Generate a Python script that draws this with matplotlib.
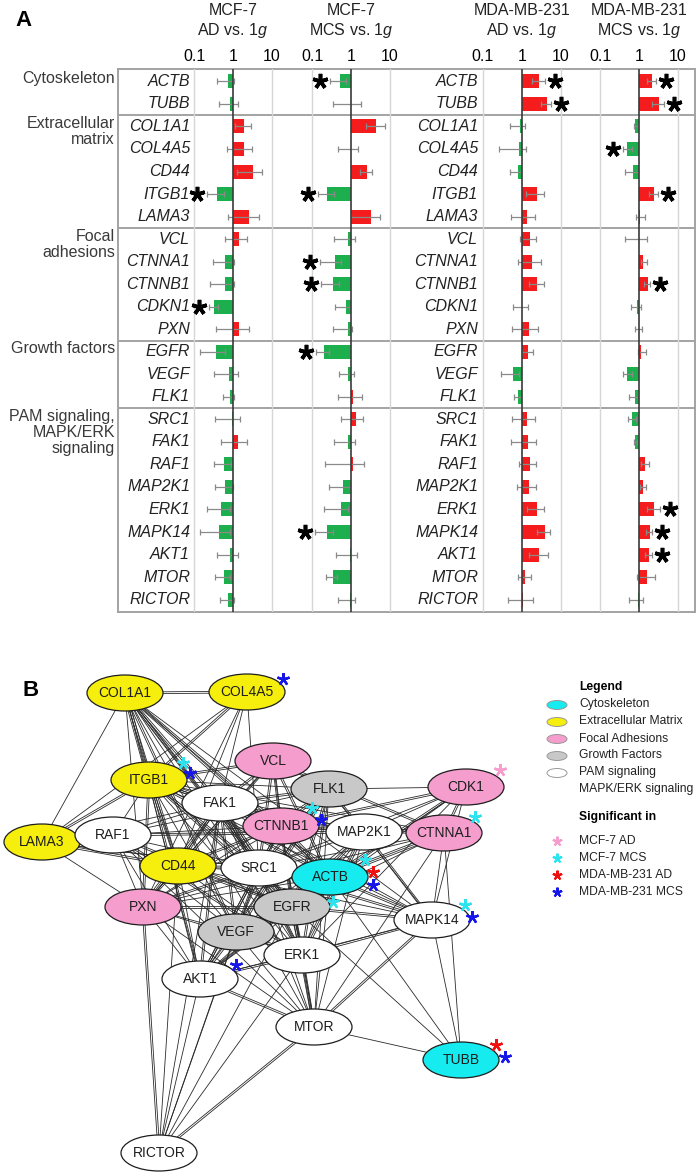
import numpy as np
import matplotlib
matplotlib.use('Agg')
import matplotlib.pyplot as plt
from matplotlib.patches import Ellipse
from matplotlib.ticker import NullLocator
from matplotlib.transforms import offset_copy, blended_transform_factory

plt.rcParams['font.family'] = ['Liberation Sans', 'DejaVu Sans']
plt.rcParams['mathtext.fontset'] = 'custom'
plt.rcParams['mathtext.it'] = 'Liberation Sans:italic'
plt.rcParams['mathtext.rm'] = 'Liberation Sans'

# ---------------- panel A data ----------------
groups = ['Cytoskeleton', 'Extracellular\nmatrix', 'Focal\nadhesions',
          'Growth factors', 'PAM signaling,\nMAPK/ERK\nsignaling']
group_sizes = [2, 5, 5, 3, 9]
genes = ['ACTB', 'TUBB', 'COL1A1', 'COL4A5', 'CD44', 'ITGB1', 'LAMA3',
         'VCL', 'CTNNA1', 'CTNNB1', 'CDKN1', 'PXN', 'EGFR', 'VEGF', 'FLK1',
         'SRC1', 'FAK1', 'RAF1', 'MAP2K1', 'ERK1', 'MAPK14', 'AKT1', 'MTOR',
         'RICTOR']
col_titles = ['MCF-7\nAD vs. 1$\\it{g}$', 'MCF-7\nMCS vs. 1$\\it{g}$',
              'MDA-MB-231\nAD vs. 1$\\it{g}$', 'MDA-MB-231\nMCS vs. 1$\\it{g}$']

# fold change, lower and upper error limits
mcf7_ad = [0.73, 0.85, 1.95, 1.88, 3.26, 0.40, 2.57, 1.40, 0.64, 0.64, 0.32, 1.40,
           0.37, 0.79, 0.84, 0.92, 1.32, 0.60, 0.64, 0.48, 0.45, 0.84, 0.58, 0.74]
mcf7_ad_lo = [0.40, 0.45, 1.10, 0.70, 1.27, 0.21, 0.74, 0.64, 0.31, 0.25, 0.24, 0.36,
              0.14, 0.32, 0.56, 0.35, 0.49, 0.33, 0.35, 0.22, 0.14, 0.40, 0.34, 0.47]
mcf7_ad_hi = [1.06, 1.32, 2.84, 3.07, 5.53, 0.58, 4.55, 2.24, 1.04, 1.04, 0.41, 2.57,
              0.61, 1.32, 1.06, 1.54, 2.24, 0.90, 1.00, 0.82, 0.82, 1.32, 0.85, 1.06]

mcf7_mcs = [0.53, 0.98, 4.29, 0.98, 2.52, 0.24, 3.20, 0.84, 0.38, 0.34, 0.74, 0.84,
            0.20, 0.85, 1.13, 1.32, 0.84, 1.15, 0.64, 0.54, 0.24, 0.94, 0.34, 0.92]
mcf7_mcs_lo = [0.29, 0.34, 2.43, 0.46, 1.70, 0.14, 1.00, 0.37, 0.16, 0.17, 0.39, 0.34,
               0.13, 0.50, 0.46, 0.55, 0.37, 0.21, 0.27, 0.20, 0.12, 0.42, 0.23, 0.46]
mcf7_mcs_hi = [0.74, 1.84, 7.30, 1.50, 3.45, 0.37, 5.40, 1.27, 0.55, 0.50, 0.94, 1.06,
               0.28, 1.17, 1.88, 2.07, 1.27, 2.10, 0.96, 0.85, 0.34, 1.45, 0.45, 1.27]

mda_ad = [2.75, 4.40, 0.87, 0.82, 0.77, 2.44, 1.37, 1.61, 1.78, 2.40, 0.99, 1.49,
          1.43, 0.60, 0.77, 1.37, 1.40, 1.58, 1.49, 2.44, 3.85, 2.80, 1.22, 1.08]
mda_ad_lo = [1.80, 3.00, 0.48, 0.26, 0.49, 1.27, 0.52, 0.87, 0.77, 1.50, 0.59, 0.56,
             1.00, 0.29, 0.61, 0.56, 0.52, 0.82, 0.76, 1.35, 2.44, 1.50, 0.79, 0.43]
mda_ad_hi = [4.00, 5.70, 1.22, 1.27, 0.96, 3.70, 2.20, 2.35, 3.00, 3.60, 1.45, 2.60,
             1.96, 0.85, 0.94, 2.15, 2.30, 2.30, 2.30, 3.60, 5.20, 4.70, 1.74, 1.90]

mda_mcs = [2.13, 3.29, 0.80, 0.50, 0.70, 2.49, 1.06, 1.00, 1.30, 1.74, 0.89, 1.00,
           1.15, 0.50, 0.79, 0.67, 0.80, 1.43, 1.24, 2.44, 1.92, 1.80, 1.61, 0.92]
mda_mcs_lo = [1.64, 2.20, 0.74, 0.39, 0.43, 1.80, 0.85, 0.43, 1.10, 1.35, 0.62, 0.79,
              0.92, 0.39, 0.57, 0.53, 0.73, 1.10, 1.04, 1.64, 1.48, 1.43, 0.90, 0.57]
mda_mcs_hi = [2.80, 4.30, 0.96, 0.65, 0.94, 3.16, 1.43, 1.58, 1.60, 1.93, 1.15, 1.17,
              1.49, 0.65, 0.96, 0.82, 0.90, 1.80, 1.49, 3.40, 2.20, 2.10, 2.52, 1.27]

sig_mcf7_ad = ['ITGB1', 'CDKN1']
sig_mcf7_mcs = ['ACTB', 'ITGB1', 'CTNNA1', 'CTNNB1', 'EGFR', 'MAPK14']
sig_mda_ad = ['ACTB', 'TUBB']
sig_mda_mcs = ['ACTB', 'TUBB', 'COL4A5', 'ITGB1', 'CTNNB1', 'ERK1', 'MAPK14', 'AKT1']

columns = [(mcf7_ad, mcf7_ad_lo, mcf7_ad_hi, sig_mcf7_ad),
           (mcf7_mcs, mcf7_mcs_lo, mcf7_mcs_hi, sig_mcf7_mcs),
           (mda_ad, mda_ad_lo, mda_ad_hi, sig_mda_ad),
           (mda_mcs, mda_mcs_lo, mda_mcs_hi, sig_mda_mcs)]

# ---------------- panel B data ----------------
node_names = ['COL1A1', 'COL4A5', 'ITGB1', 'VCL', 'FLK1', 'FAK1', 'CDK1',
              'CTNNB1', 'MAP2K1', 'CTNNA1', 'LAMA3', 'RAF1', 'CD44', 'SRC1',
              'ACTB', 'PXN', 'EGFR', 'MAPK14', 'VEGF', 'ERK1', 'AKT1', 'MTOR',
              'TUBB', 'RICTOR']
node_groups = ['ecm', 'ecm', 'ecm', 'focal', 'growth', 'pam', 'focal',
               'focal', 'pam', 'focal', 'ecm', 'pam', 'ecm', 'pam',
               'cyto', 'focal', 'growth', 'pam', 'growth', 'pam', 'pam', 'pam',
               'cyto', 'pam']
edges = [
    ('COL1A1', 'COL4A5', 2), ('COL1A1', 'LAMA3', 1), ('COL1A1', 'ITGB1', 3),
    ('COL1A1', 'CD44', 2), ('COL1A1', 'FAK1', 2), ('COL1A1', 'SRC1', 2),
    ('COL1A1', 'ACTB', 2), ('COL1A1', 'EGFR', 2), ('COL1A1', 'VEGF', 2),
    ('COL1A1', 'PXN', 1), ('COL1A1', 'CTNNB1', 2), ('COL1A1', 'AKT1', 1),
    ('COL1A1', 'ERK1', 1), ('COL1A1', 'MAPK14', 1), ('COL1A1', 'MTOR', 1),
    ('COL4A5', 'ITGB1', 2), ('COL4A5', 'LAMA3', 1), ('COL4A5', 'CD44', 1),
    ('COL4A5', 'FAK1', 1), ('COL4A5', 'SRC1', 1), ('COL4A5', 'PXN', 1),
    ('LAMA3', 'ITGB1', 2), ('LAMA3', 'CD44', 2), ('LAMA3', 'PXN', 1),
    ('LAMA3', 'FAK1', 1), ('LAMA3', 'SRC1', 1), ('LAMA3', 'ACTB', 1),
    ('ITGB1', 'VCL', 2), ('ITGB1', 'FAK1', 3), ('ITGB1', 'CD44', 2),
    ('ITGB1', 'SRC1', 2), ('ITGB1', 'PXN', 2), ('ITGB1', 'CTNNB1', 2),
    ('ITGB1', 'CTNNA1', 1), ('ITGB1', 'ACTB', 2), ('ITGB1', 'EGFR', 2),
    ('ITGB1', 'VEGF', 1), ('ITGB1', 'AKT1', 2), ('ITGB1', 'ERK1', 1),
    ('ITGB1', 'MAPK14', 1), ('ITGB1', 'RAF1', 1), ('ITGB1', 'FLK1', 1),
    ('ITGB1', 'MAP2K1', 1),
    ('VCL', 'FAK1', 2), ('VCL', 'CTNNB1', 2), ('VCL', 'CTNNA1', 2),
    ('VCL', 'PXN', 2), ('VCL', 'ACTB', 2), ('VCL', 'SRC1', 2),
    ('VCL', 'FLK1', 1), ('VCL', 'CD44', 1), ('VCL', 'EGFR', 1),
    ('FLK1', 'VEGF', 3), ('FLK1', 'SRC1', 2), ('FLK1', 'MAP2K1', 2),
    ('FLK1', 'ERK1', 2), ('FLK1', 'AKT1', 1), ('FLK1', 'EGFR', 2),
    ('FLK1', 'CTNNB1', 2), ('FLK1', 'FAK1', 2), ('FLK1', 'PXN', 1),
    ('FLK1', 'MAPK14', 1), ('FLK1', 'CDK1', 1), ('FLK1', 'RAF1', 1),
    ('FLK1', 'MTOR', 1),
    ('FAK1', 'SRC1', 3), ('FAK1', 'PXN', 3), ('FAK1', 'CTNNB1', 2),
    ('FAK1', 'RAF1', 1), ('FAK1', 'CD44', 2), ('FAK1', 'EGFR', 2),
    ('FAK1', 'VEGF', 2), ('FAK1', 'ERK1', 2), ('FAK1', 'AKT1', 2),
    ('FAK1', 'MAP2K1', 2), ('FAK1', 'ACTB', 1), ('FAK1', 'MAPK14', 1),
    ('FAK1', 'MTOR', 1), ('FAK1', 'RICTOR', 1),
    ('CDK1', 'CTNNB1', 2), ('CDK1', 'CTNNA1', 2), ('CDK1', 'MAP2K1', 1),
    ('CDK1', 'ACTB', 2), ('CDK1', 'EGFR', 1), ('CDK1', 'MAPK14', 1),
    ('CDK1', 'ERK1', 1), ('CDK1', 'SRC1', 1), ('CDK1', 'AKT1', 1),
    ('CTNNB1', 'CTNNA1', 3), ('CTNNB1', 'MAP2K1', 1), ('CTNNB1', 'SRC1', 2),
    ('CTNNB1', 'ACTB', 3), ('CTNNB1', 'EGFR', 2), ('CTNNB1', 'VEGF', 1),
    ('CTNNB1', 'CD44', 2), ('CTNNB1', 'PXN', 1), ('CTNNB1', 'AKT1', 2),
    ('CTNNB1', 'ERK1', 1), ('CTNNB1', 'RAF1', 1), ('CTNNB1', 'MTOR', 1),
    ('MAP2K1', 'ERK1', 3), ('MAP2K1', 'RAF1', 2), ('MAP2K1', 'SRC1', 1),
    ('MAP2K1', 'EGFR', 2), ('MAP2K1', 'MAPK14', 2), ('MAP2K1', 'AKT1', 1),
    ('MAP2K1', 'MTOR', 1), ('MAP2K1', 'VEGF', 1), ('MAP2K1', 'ACTB', 1),
    ('CTNNA1', 'ACTB', 3), ('CTNNA1', 'EGFR', 1), ('CTNNA1', 'SRC1', 1),
    ('CTNNA1', 'MAPK14', 1), ('CTNNA1', 'TUBB', 1), ('CTNNA1', 'MTOR', 1),
    ('CTNNA1', 'PXN', 1),
    ('RAF1', 'SRC1', 1), ('RAF1', 'EGFR', 2), ('RAF1', 'ERK1', 2),
    ('RAF1', 'AKT1', 1), ('RAF1', 'PXN', 1), ('RAF1', 'MTOR', 1),
    ('RAF1', 'VEGF', 1),
    ('CD44', 'SRC1', 2), ('CD44', 'EGFR', 2), ('CD44', 'PXN', 1),
    ('CD44', 'VEGF', 1), ('CD44', 'ACTB', 1), ('CD44', 'AKT1', 1),
    ('CD44', 'MAPK14', 1), ('CD44', 'RICTOR', 1), ('CD44', 'ERK1', 1),
    ('SRC1', 'ACTB', 2), ('SRC1', 'EGFR', 3), ('SRC1', 'PXN', 2),
    ('SRC1', 'VEGF', 2), ('SRC1', 'ERK1', 2), ('SRC1', 'AKT1', 2),
    ('SRC1', 'MAPK14', 2), ('SRC1', 'MTOR', 1), ('SRC1', 'RICTOR', 1),
    ('ACTB', 'EGFR', 2), ('ACTB', 'MAPK14', 2), ('ACTB', 'ERK1', 1),
    ('ACTB', 'TUBB', 1), ('ACTB', 'PXN', 1), ('ACTB', 'VEGF', 1),
    ('ACTB', 'MTOR', 1), ('ACTB', 'AKT1', 1),
    ('PXN', 'EGFR', 2), ('PXN', 'VEGF', 1), ('PXN', 'AKT1', 1),
    ('PXN', 'ERK1', 1), ('PXN', 'RICTOR', 2), ('PXN', 'MTOR', 1),
    ('EGFR', 'VEGF', 2), ('EGFR', 'ERK1', 3), ('EGFR', 'AKT1', 2),
    ('EGFR', 'MAPK14', 2), ('EGFR', 'MTOR', 2), ('EGFR', 'TUBB', 1),
    ('EGFR', 'RICTOR', 1),
    ('MAPK14', 'ERK1', 2), ('MAPK14', 'AKT1', 1), ('MAPK14', 'MTOR', 2),
    ('MAPK14', 'TUBB', 1),
    ('VEGF', 'ERK1', 2), ('VEGF', 'AKT1', 2), ('VEGF', 'MTOR', 1),
    ('VEGF', 'RICTOR', 1),
    ('ERK1', 'AKT1', 2), ('ERK1', 'MTOR', 2), ('ERK1', 'RICTOR', 1),
    ('AKT1', 'MTOR', 2), ('AKT1', 'RICTOR', 1),
    ('MTOR', 'RICTOR', 2), ('MTOR', 'TUBB', 1),
]
legend_keys = ['cyto', 'ecm', 'focal', 'growth', 'pam']
legend_labels = ['Cytoskeleton', 'Extracellular Matrix', 'Focal Adhesions',
                 'Growth Factors', 'PAM signaling\nMAPK/ERK signaling']
sig_keys = ['mcf7_ad', 'mcf7_mcs', 'mda_ad', 'mda_mcs']
sig_labels = ['MCF-7 AD', 'MCF-7 MCS', 'MDA-MB-231 AD', 'MDA-MB-231 MCS']

# ---------------- layout / style ----------------
W, H = 700, 1176
RED, GREEN = '#f41c1c', '#1daf4e'
node_colors = {'cyto': '#16ecef', 'ecm': '#f6ee0c', 'focal': '#f59dcd',
               'growth': '#c8c8c8', 'pam': 'white'}
star_colors = {'mcf7_ad': '#f59dcd', 'mcf7_mcs': '#2de4ee',
               'mda_ad': '#f01010', 'mda_mcs': '#1616e8'}
node_pos = {'COL1A1': (125, 693), 'COL4A5': (247, 692), 'ITGB1': (149, 780),
            'VCL': (273, 761), 'FLK1': (329, 789), 'FAK1': (220, 803),
            'CDK1': (466, 787), 'CTNNB1': (281, 826), 'MAP2K1': (364, 832),
            'CTNNA1': (444, 833), 'LAMA3': (42, 842), 'RAF1': (113, 835),
            'CD44': (178, 866), 'SRC1': (259, 868), 'ACTB': (330, 877),
            'PXN': (143, 907), 'EGFR': (292, 907), 'MAPK14': (432, 920),
            'VEGF': (236, 932), 'ERK1': (302, 955), 'AKT1': (200, 979),
            'MTOR': (314, 1027), 'TUBB': (461, 1060), 'RICTOR': (159, 1153)}
net_stars = [('COL4A5', 'mda_mcs', 36, -13),
             ('ITGB1', 'mcf7_mcs', 34, -17), ('ITGB1', 'mda_mcs', 41, -7),
             ('CDK1', 'mcf7_ad', 34, -17),
             ('CTNNB1', 'mcf7_mcs', 31, -18), ('CTNNB1', 'mda_mcs', 40, -6),
             ('CTNNA1', 'mcf7_mcs', 31, -16),
             ('ACTB', 'mcf7_mcs', 35, -17), ('ACTB', 'mda_ad', 43, -5),
             ('ACTB', 'mda_mcs', 43, 8),
             ('EGFR', 'mcf7_mcs', 41, -5),
             ('MAPK14', 'mcf7_mcs', 33, -15), ('MAPK14', 'mda_mcs', 40, -3),
             ('AKT1', 'mda_mcs', 36, -14),
             ('TUBB', 'mda_ad', 35, -15), ('TUBB', 'mda_mcs', 44, -3)]


def px_rect(x0, y0, x1, y1):
    return [x0 / W, 1 - y1 / H, (x1 - x0) / W, (y1 - y0) / H]


fig = plt.figure(figsize=(W / 100, H / 100), dpi=100)

n = len(genes)
ylim = (n - 0.45, -0.55)
box_top, box_bot = 69, 612

# table frame, separators, labels
tab = fig.add_axes(px_rect(118, box_top, 695, box_bot))
tab.set_xlim(118, 695)
tab.set_ylim(*ylim)
tab.set_xticks([])
tab.set_yticks([])
for sp in tab.spines.values():
    sp.set_color('#a3a3a3')
    sp.set_linewidth(1.4)
bounds = np.cumsum(group_sizes)
for b in bounds[:-1]:
    tab.axhline(b - 0.5, color='#a3a3a3', lw=1.4)
starts = np.concatenate([[0], bounds[:-1]])
for g, s in zip(groups, starts):
    tab.text(115, s - 0.47, g, ha='right', va='top', fontsize=11.5,
             color='#3a3a3a', linespacing=1.1, clip_on=False)
for i, gname in enumerate(genes):
    for xl in (190, 478):
        tab.text(xl, i, gname, ha='right', va='center', fontsize=11.5,
                 style='italic', color='#222222')

centers = [233, 351, 522, 639]
half = 58.5
for c, (vals, lo, hi, sig) in enumerate(columns):
    v = np.array(vals)
    lo = np.array(lo)
    hi = np.array(hi)
    ax = fig.add_axes(px_rect(centers[c] - half, box_top, centers[c] + half, box_bot))
    ax.patch.set_alpha(0)
    ax.set_xscale('log')
    ax.set_xlim(10 ** -1.5, 10 ** 1.5)
    ax.set_ylim(*ylim)
    for sp in ax.spines.values():
        sp.set_visible(False)
    ax.set_yticks([])
    ax.set_xticks([0.1, 1, 10])
    ax.set_xticklabels(['0.1', '1', '10'])
    ax.xaxis.set_minor_locator(NullLocator())
    ax.tick_params(axis='x', top=True, labeltop=True, bottom=False,
                   labelbottom=False, length=0, pad=3.5, labelsize=11.5)
    ax.axvline(0.1, color='#d6d6d6', lw=1, zorder=0)
    ax.axvline(10, color='#d6d6d6', lw=1, zorder=0)
    y = np.arange(n)
    colors = np.where(v >= 1, RED, GREEN)
    ax.barh(y, np.abs(v - 1), left=np.minimum(v, 1), height=0.62,
            color=colors, zorder=2)
    ax.errorbar(v, y, xerr=[v - lo, hi - v], fmt='none', ecolor='#8a8a8a',
                elinewidth=0.9, capsize=2.2, capthick=0.9, zorder=3)
    ax.axvline(1, color='#3a3a3a', lw=1.2, zorder=4)
    left_tr = offset_copy(ax.transData, fig=fig, x=-10, y=0, units='dots')
    right_tr = offset_copy(ax.transData, fig=fig, x=10, y=0, units='dots')
    for gname in sig:
        i = genes.index(gname)
        if v[i] < 1:
            ax.plot(lo[i], i, marker=(5, 2, 0), ms=11, mew=2.6, color='black',
                    transform=left_tr, clip_on=False, zorder=5)
        else:
            ax.plot(hi[i], i, marker=(5, 2, 0), ms=11, mew=2.6, color='black',
                    transform=right_tr, clip_on=False, zorder=5)
    tr = blended_transform_factory(ax.transData, ax.transAxes)
    ax.text(1, 1 + (box_top - 21.5) / (box_bot - box_top), col_titles[c],
            transform=tr, ha='center', va='center', fontsize=11.5,
            color='#222222', linespacing=1.15)

fig.text(15 / W, 1 - 20 / H, 'A', fontsize=16, fontweight='bold',
         ha='left', va='center')

# ---------------- panel B ----------------
net = fig.add_axes(px_rect(0, 650, 700, 1176))
net.set_xlim(0, 700)
net.set_ylim(1176, 650)
net.axis('off')

for a, b, m in edges:
    x0, y0 = node_pos[a]
    x1, y1 = node_pos[b]
    d = np.hypot(x1 - x0, y1 - y0)
    nx, ny = -(y1 - y0) / d, (x1 - x0) / d
    for k in range(m):
        off = (k - (m - 1) / 2) * 1.8
        net.plot([x0 + nx * off, x1 + nx * off], [y0 + ny * off, y1 + ny * off],
                 color='#2a2a2a', lw=0.6, zorder=1)

for name, grp in zip(node_names, node_groups):
    x, yv = node_pos[name]
    net.add_patch(Ellipse((x, yv), 76, 36, facecolor=node_colors[grp],
                          edgecolor='#1e1e1e', lw=0.9, zorder=3))
    net.text(x, yv, name, ha='center', va='center', fontsize=10,
             color='#1e1e1e', zorder=4)

for name, key, dx, dy in net_stars:
    x, yv = node_pos[name]
    net.plot(x + dx, yv + dy, marker=(5, 2, 0), ms=9, mew=1.7,
             color=star_colors[key], zorder=5)

fig.text(22 / W, 1 - 690 / H, 'B', fontsize=16, fontweight='bold',
         ha='left', va='center')

# legend
net.text(579, 687, 'Legend', fontsize=8.7, fontweight='bold', va='center')
for k, (key, lab) in enumerate(zip(legend_keys, legend_labels)):
    yy = 705 + 17 * k
    net.add_patch(Ellipse((557, yy), 20, 9, facecolor=node_colors[key],
                          edgecolor='#999999', lw=0.7))
    net.text(579, yy - 6.5, lab, fontsize=8.7, va='top', color='#222222',
             linespacing=1.45)
net.text(579, 817, 'Significant in', fontsize=8.7, fontweight='bold', va='center')
for k, (key, lab) in enumerate(zip(sig_keys, sig_labels)):
    yy = 841 + 17 * k
    net.plot(557, yy, marker=(5, 2, 0), ms=7, mew=1.5, color=star_colors[key])
    net.text(579, yy, lab, fontsize=8.7, va='center', color='#222222')

fig.savefig('out.png', dpi=100)
